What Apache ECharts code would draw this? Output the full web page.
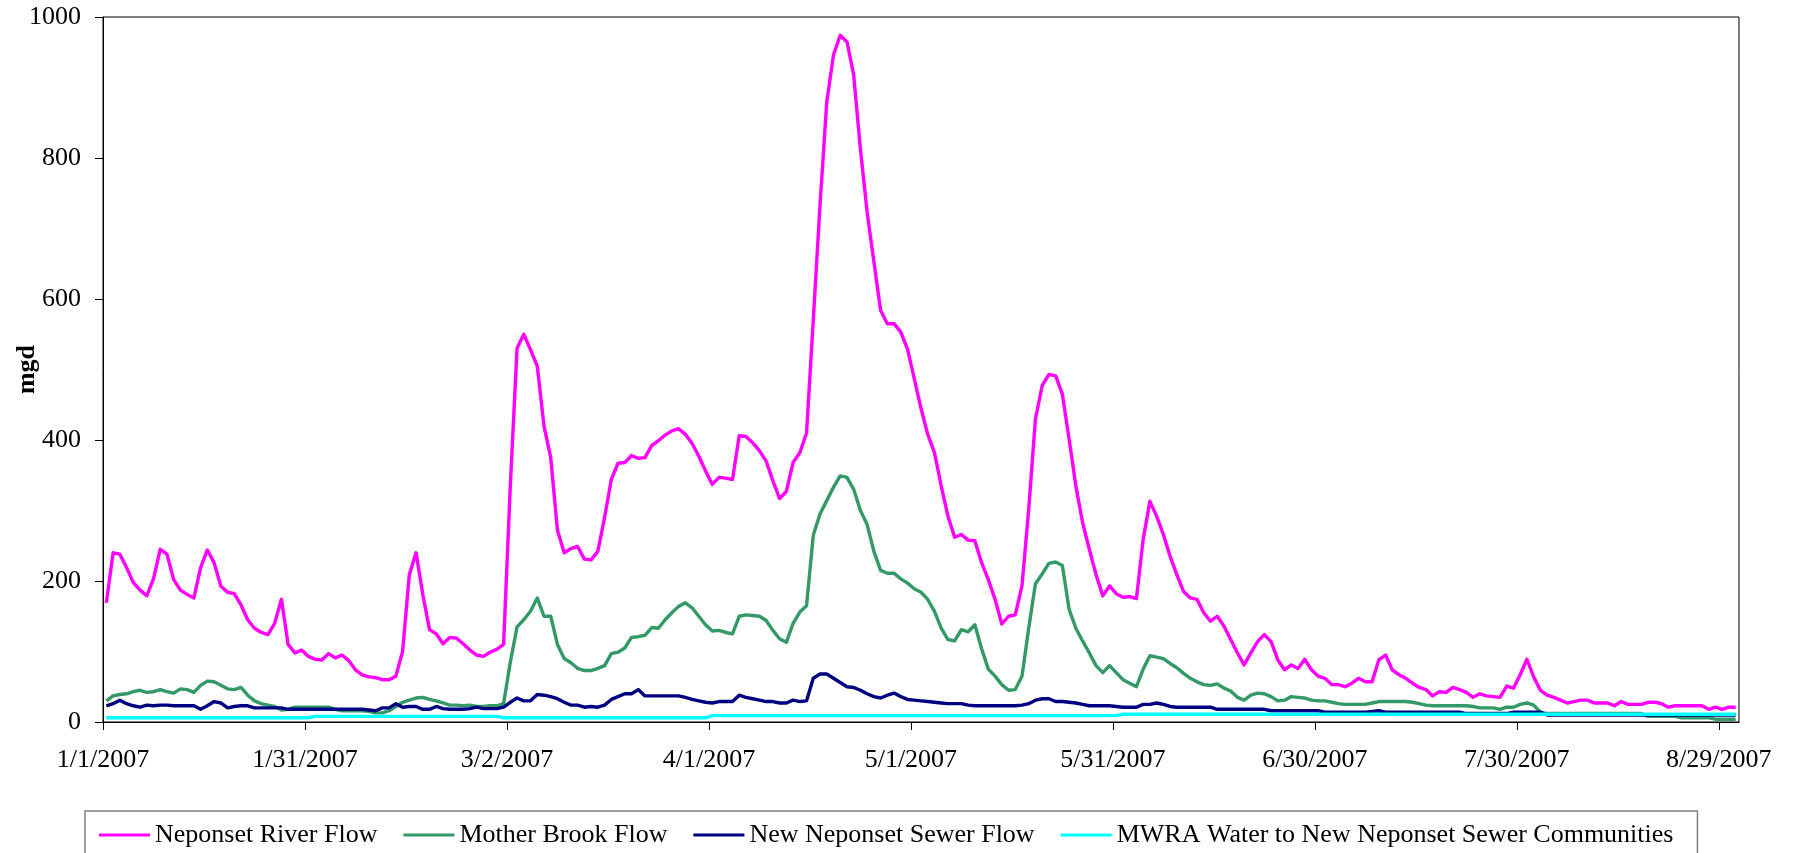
<!DOCTYPE html>
<html>
<head>
<meta charset="utf-8">
<script src="https://cdn.jsdelivr.net/npm/echarts@6/dist/echarts.min.js"></script>
<style>
html,body{margin:0;padding:0;background:#fff;}
#chart{width:1803px;height:853px;}
</style>
</head>
<body>
<div id="chart"></div>
<script>
// Daily series, 1/1/2007 .. 8/31/2007 (243 days), values in mgd
const tickLabels = ['1/1/2007','1/31/2007','3/2/2007','4/1/2007','5/1/2007','5/31/2007','6/30/2007','7/30/2007','8/29/2007'];
const seriesNames = ['Neponset River Flow','Mother Brook Flow','New Neponset Sewer Flow','MWRA Water to New Neponset Sewer Communities'];

const neponsetRiver = [
169,240,238,219,198,187,179,203,245,238,
202,187,181,176,219,244,226,193,184,182,
166,145,133,127,124,140,174,110,98,102,
93,89,88,97,91,95,87,74,67,64,
63,60,60,65,100,209,240,181,131,125,
111,120,119,111,102,95,93,99,103,110,
335,530,550,528,505,420,375,272,240,246,
249,231,230,242,290,344,367,368,378,374,
375,392,399,407,413,416,408,395,377,356,
337,347,346,344,406,405,396,385,370,342,
317,327,368,382,410,570,733,879,946,974,
965,918,813,723,653,584,565,565,553,529,
487,445,408,382,335,292,262,266,258,257,
226,202,174,139,150,152,193,302,430,477,
493,491,465,401,335,283,245,209,179,193,
182,177,178,175,259,313,292,266,235,209,
185,176,174,155,143,150,136,117,98,81,
98,114,124,114,88,74,81,76,89,74,
65,62,53,53,50,55,62,57,57,88,
95,74,67,62,55,49,46,37,43,42,
49,46,42,35,40,37,36,35,51,48,
67,89,64,45,38,35,31,27,29,31,
31,27,27,27,23,29,25,25,25,28,
28,26,21,23,23,23,23,23,18,21,
18,21,21];

const motherBrook = [
30,37,39,40,43,45,42,43,46,43,
41,47,46,42,52,58,57,52,47,46,
49,38,30,26,24,22,17,18,21,21,
21,21,21,21,18,16,16,16,16,15,
13,13,16,22,28,31,34,35,32,30,
27,24,24,23,24,22,22,23,23,26,
85,135,145,157,176,150,150,110,90,84,
76,73,73,76,80,97,99,105,120,121,
123,134,133,145,155,164,169,162,150,138,
129,130,127,125,150,152,151,150,144,130,
118,113,140,156,165,265,295,314,333,349,
347,330,300,280,242,215,211,211,203,197,
189,184,174,157,133,117,115,131,128,138,
104,75,65,53,45,46,65,133,196,210,
225,227,222,160,133,115,98,80,70,80,
70,60,55,50,75,94,92,90,83,77,
69,62,57,53,52,54,48,44,35,31,
38,41,40,36,30,31,36,35,34,31,
30,30,28,26,25,25,25,25,27,29,
29,29,29,29,28,26,24,23,23,23,
23,23,23,22,20,20,20,18,21,21,
25,27,24,14,12,12,12,12,12,12,
12,12,12,12,12,12,12,12,12,8,
8,8,8,8,6,6,6,6,6,4,
4,4,4];

const sewerFlow = [
23,26,31,26,23,21,24,23,24,24,
23,23,23,23,18,23,29,27,20,22,
23,23,20,20,20,20,20,18,18,18,
18,18,18,18,18,18,18,18,18,17,
16,20,20,26,21,22,22,18,18,22,
19,18,18,18,19,21,19,19,19,21,
28,34,30,30,39,38,36,33,28,24,
24,21,22,21,24,32,36,40,40,46,
37,37,37,37,37,37,35,32,30,28,
27,29,29,29,38,35,33,31,29,29,
27,27,31,29,30,62,68,68,62,56,
50,49,45,40,36,34,38,41,36,32,
31,30,29,28,27,26,26,26,24,23,
23,23,23,23,23,23,24,26,31,33,
33,29,29,28,27,25,23,23,23,23,
22,21,21,21,25,25,27,25,22,21,
21,21,21,21,21,18,18,18,18,18,
18,18,18,16,16,16,16,16,16,16,
16,14,14,14,14,14,14,14,15,16,
14,14,14,14,14,14,14,14,14,14,
14,14,12,12,12,12,12,12,12,14,
14,14,14,14,10,10,10,10,10,10,
10,10,10,10,10,10,10,10,10,10,
10,10,10,10,10,10,10,10,10,10,
10,10,10];

const mwraWater = [
6,6,6,6,6,6,6,6,6,6,
6,6,6,6,6,6,6,6,6,6,
6,6,6,6,6,6,6,6,6,6,
6,8,8,8,8,8,8,8,8,8,
8,8,8,8,8,8,8,8,8,8,
8,8,8,8,8,8,8,8,8,6,
6,6,6,6,6,6,6,6,6,6,
6,6,6,6,6,6,6,6,6,6,
6,6,6,6,6,6,6,6,6,6,
9,9,9,9,9,9,9,9,9,9,
9,9,9,9,9,9,9,9,9,9,
9,9,9,9,9,9,9,9,9,9,
9,9,9,9,9,9,9,9,9,9,
9,9,9,9,9,9,9,9,9,9,
9,9,9,9,9,9,9,9,9,9,
9,11,11,11,11,11,11,11,11,11,
11,11,11,11,11,11,11,11,11,11,
11,11,11,11,11,11,11,11,11,11,
11,11,11,11,11,11,11,11,11,11,
11,11,11,11,11,11,11,11,11,11,
11,11,11,11,11,11,11,11,11,11,
11,11,11,11,11,11,11,11,11,11,
11,11,11,11,11,11,11,11,11,11,
11,11,11,11,11,11,11,11,11,11,
11,11,11];

const colors = ['#FF00FF','#339966','#000080','#00FFFF'];
const FONT = "'Times New Roman','Liberation Serif',serif";

// each daily value is plotted in the middle of its day on a day-count axis
function toPoints(arr){ return arr.map((v,i)=>[i+0.5, v]); }
const allSeries = [neponsetRiver, motherBrook, sewerFlow, mwraWater];
const tickDays = tickLabels.map((_,i)=>i*30);

const chart = echarts.init(document.getElementById('chart'), null, {renderer:'canvas'});
chart.setOption({
  animation:false,
  backgroundColor:'#fff',
  textStyle:{fontFamily:FONT},
  grid:{left:103,right:64,top:17,bottom:131,containLabel:false,outerBoundsMode:'none',
        show:true,borderColor:'#000',borderWidth:1,backgroundColor:'transparent'},
  legend:{
    left:85, top:811, orient:'horizontal',
    icon:'rect', itemWidth:51, itemHeight:3, itemGap:26,
    padding:[10,24,10,14],
    borderColor:'#808080', borderWidth:1.5,
    textStyle:{fontSize:26,color:'#000',fontFamily:FONT,lineHeight:28},
    data:seriesNames
  },
  xAxis:{
    type:'value', min:0, max:243, interval:30,
    axisLine:{show:true,lineStyle:{color:'#000',width:1}},
    axisTick:{show:true,length:8,inside:false,lineStyle:{color:'#000'},customValues:tickDays},
    axisLabel:{
      margin:25, fontSize:26, color:'#000', fontFamily:FONT, customValues:tickDays,
      formatter:function(v){ const k=Math.round(v/30); return (Math.abs(v-k*30)<1e-6 && k<tickLabels.length)?tickLabels[k]:''; }
    },
    splitLine:{show:false}
  },
  yAxis:{
    type:'value', min:0, max:1000, interval:200,
    name:'mgd', nameLocation:'middle', nameRotate:90, nameGap:63, nameMoveOverlap:false,
    nameTextStyle:{fontSize:26,fontWeight:'bold',color:'#000',fontFamily:FONT},
    axisLine:{show:true,lineStyle:{color:'#000',width:1}},
    axisTick:{show:true,length:8,inside:false,lineStyle:{color:'#000'}},
    axisLabel:{margin:22,fontSize:26,color:'#000',fontFamily:FONT,formatter:function(v){return String(v);}},
    splitLine:{show:false}
  },
  series: allSeries.map((arr,i)=>({
    name:seriesNames[i], type:'line', data:toPoints(arr),
    symbol:'none', smooth:false, z:2+i,
    lineStyle:{color:colors[i],width:3.4,join:'round'},
    itemStyle:{color:colors[i]}
  }))
});
</script>
</body>
</html>
